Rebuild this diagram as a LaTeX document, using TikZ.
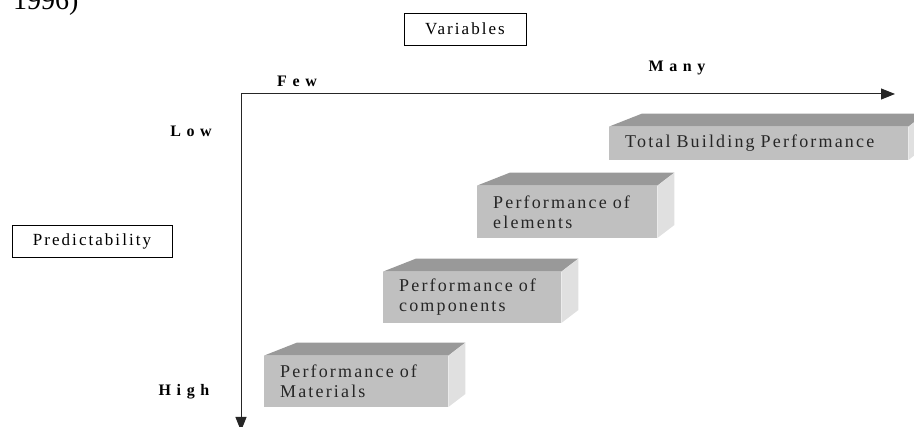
\documentclass[tikz,border=0pt]{standalone}
\usepackage{fontspec}
\setmainfont{Liberation Serif}
\newfontfamily\spaced[LetterSpace=12,WordSpace=3]{Liberation Serif}
\newfontfamily\spacedbold[LetterSpace=35]{Liberation Serif}
\usetikzlibrary{arrows.meta,calc}
\definecolor{frontgray}{HTML}{C0C0C0}
\definecolor{topgray}{HTML}{999999}
\definecolor{sidegray}{HTML}{E0E0E0}

\begin{document}
\begin{tikzpicture}[x=1pt,y=1pt,
    labelbox/.style={rectangle, draw, line width=0.8pt, minimum height=32pt,
        font=\spaced\fontsize{17}{19}\selectfont},
    axisword/.style={font=\spacedbold\bfseries\fontsize{16}{18}\selectfont},
    block/.style={rectangle, fill=frontgray, anchor=south west, inner xsep=16pt,
        inner ysep=0pt, align=left, text=black!85,
        font=\spaced\fontsize{18}{20}\selectfont}]
    \useasboundingbox (0,0) rectangle (914,427);

    \node[anchor=base west, inner sep=0pt, font=\fontsize{28}{30}\selectfont] (year) at (13,417) {1996)};

    % axes
    \coordinate (corner) at (241,333);
    \coordinate (xend) at (895,333);
    \coordinate (yend) at (241,-4);
    \draw[{Triangle[length=14pt,width=11pt]}-{Triangle[length=14pt,width=11pt]}, line width=1pt, black!85]
        (xend) -- (corner) -- (yend);

    \node[labelbox, minimum width=122pt] (variables) at (465,398) {Variables};
    \node[labelbox, minimum width=160pt] (predict) at (92,186) {Predictability};
    \node[axisword] (few) at (297,346) {Few};
    \node[axisword] (many) at (677,359) {Many};
    \node[axisword] (low) at (191,296) {Low};
    \node[axisword] (high) at (184,35) {High};

    % blocks
    \node[block, text width=152pt, minimum height=51pt] (materials) at (264,20) {Performance of\\Materials};
    \node[block, text width=146pt, minimum height=51pt] (components) at (383,104) {Performance of\\components};
    \node[block, text width=148pt, minimum height=52pt] (elements) at (477,189) {Performance of\\elements};
    \node[block, text width=267pt, minimum height=33pt] (total) at (609,267) {Total Building Performance};
    \foreach \b in {materials,components,elements,total}{
        \fill[topgray] (\b.north west) -- ++(33,13) -- ($(\b.north east)+(17,13)$) -- (\b.north east) -- cycle;
        \fill[sidegray] (\b.north east) -- ++(17,13) -- ($(\b.south east)+(17,13)$) -- (\b.south east) -- cycle;
    }
\end{tikzpicture}
\end{document}
